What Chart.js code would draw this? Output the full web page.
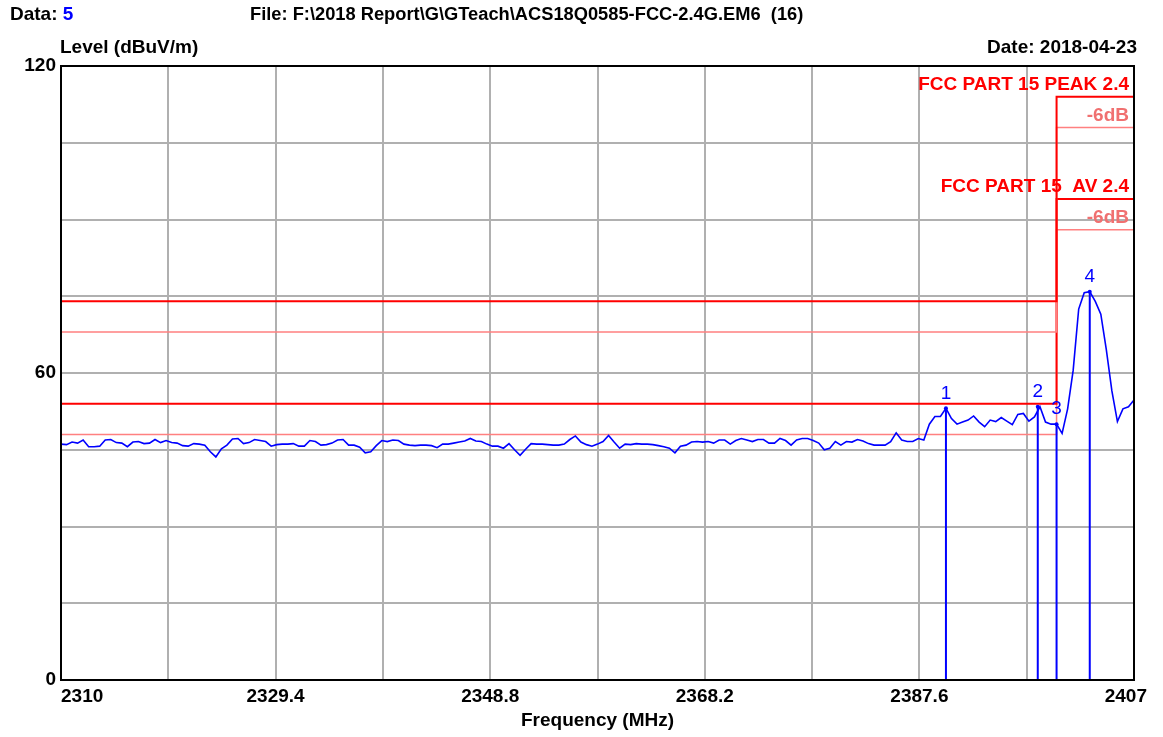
<!DOCTYPE html>
<html>
<head>
<meta charset="utf-8">
<title>EM6 scan</title>
<script src="https://cdn.jsdelivr.net/npm/chart.js@4.4.0/dist/chart.umd.min.js"></script>
<style>
  body { margin: 0; background: #fff; }
  #wrap { width: 1163px; height: 737px; }
</style>
</head>
<body>
<div id="wrap"><canvas id="myChart" width="1163" height="737"></canvas></div>
<script>
// trace, one value every 0.5 MHz from 2310 to 2407
const traceStart = 2310
const traceStep = 0.5
const traceLevels = [
  46.1,46.0,46.5,46.3,46.9,45.6,45.6,45.7,46.9,47.0,46.4,46.3,45.6,46.5,46.6,46.2,46.3,47.0,46.4,46.8, // 2310
  46.4,46.3,45.8,45.7,46.2,46.1,45.9,44.6,43.6,45.2,45.9,47.1,47.2,46.2,46.4,47.0,46.8,46.6,45.7,46.0, // 2320
  46.1,46.1,46.2,45.7,45.7,46.8,46.6,45.9,46.0,46.3,46.9,47.0,45.9,45.9,45.5,44.4,44.6,45.8,46.8,46.6, // 2330
  46.9,46.8,46.1,45.9,45.8,45.9,45.9,45.8,45.4,46.1,46.1,46.3,46.5,46.7,47.2,46.7,46.6,46.1,45.7,45.7, // 2340
  45.3,46.2,45.0,43.9,45.1,46.2,46.1,46.1,46.0,45.9,45.9,46.1,47.0,47.7,46.5,46.0,45.7,46.1,46.6,47.8, // 2350
  46.5,45.3,46.1,46.0,46.2,46.1,46.1,46.0,45.8,45.6,45.3,44.4,45.7,45.9,46.5,46.6,46.5,46.6,46.3,46.9, // 2360
  46.9,46.1,46.8,47.2,46.9,46.6,47.0,47.0,46.3,46.3,47.2,46.8,45.9,46.9,47.2,47.2,46.8,46.3,45.0,45.3, // 2370
  46.6,45.9,46.6,46.5,47.0,46.7,46.2,45.9,45.9,45.9,46.6,48.3,46.9,46.6,46.6,47.2,46.9,50.0,51.5,51.5, // 2380
  53.1,51.1,50.0,50.4,50.8,51.6,50.4,49.5,50.8,50.5,51.3,50.6,49.9,51.9,52.1,50.6,51.4,53.4,50.4,50.0, // 2390
  50.0,48.2,53.0,60.5,72.5,75.7,75.9,74.0,71.5,64.5,56.5,50.5,53.0,53.4,54.7                          // 2400
]

// limit lines, the step is at 2400 MHz
const limitFreqs = [2310, 2400, 2400, 2407]
const peakLimit = [74, 74, 114, 114]
const peakLimit6 = [68, 68, 108, 108]
const avLimit = [54, 54, 94, 94]
const avLimit6 = [48, 48, 88, 88]
const limitNames = ["FCC PART 15 PEAK 2.4", "-6dB", "FCC PART 15  AV 2.4", "-6dB"]

const markerNames = ["1", "2", "3", "4"]
const markerFreqs = [2390, 2398.3, 2400, 2403]
const markerLevels = [53.1, 53.4, 50.0, 75.9]

const xTickLabels = [2310, 2329.4, 2348.8, 2368.2, 2387.6, 2407]
const yTickLabels = [0, 60, 120]

const fontName = '"Liberation Sans", Arial, sans-serif'
const red = "#ff0000"
const pink = "#ff8080"
const blue = "#0000ff"

function limitPoints(levels){
  return limitFreqs.map((f, i) => ({x: f, y: levels[i]}))
}

const overlay = {
  id: "overlay",
  afterDraw(chart){
    const ctx = chart.ctx
    const a = chart.chartArea
    const xs = chart.scales.x
    const ys = chart.scales.y
    ctx.save()

    // frame round the plot
    ctx.strokeStyle = "#000"
    ctx.lineWidth = 2
    ctx.strokeRect(a.left, a.top, a.right - a.left, a.bottom - a.top)

    ctx.textBaseline = "middle"
    ctx.font = "bold 19px " + fontName

    // frequency labels, first one starts at the axis
    ctx.fillStyle = "#000"
    ctx.textAlign = "center"
    xTickLabels.forEach(v => {
      const txt = String(v)
      const w = ctx.measureText(txt).width
      let px = xs.getPixelForValue(v)
      px = Math.max(px, a.left + w / 2)
      px = Math.min(px, chart.width - 16 - w / 2)
      ctx.fillText(txt, px, a.bottom + 17)
    })

    // header
    ctx.textAlign = "left"
    ctx.fillText("Data: ", 10, 15)
    let w = ctx.measureText("Data: ").width
    ctx.fillStyle = blue
    ctx.fillText("5", 10 + w, 15)
    ctx.fillStyle = "#000"
    ctx.fillText("Level (dBuV/m)", 60, 48)
    ctx.textAlign = "right"
    ctx.fillText("Date: 2018-04-23", 1137, 48)
    ctx.textAlign = "left"
    ctx.font = "bold 18.3px " + fontName
    ctx.fillText("File: F:\\2018 Report\\G\\GTeach\\ACS18Q0585-FCC-2.4G.EM6  (16)", 250, 15)

    // limit names above the upper part of each line
    ctx.font = "bold 19px " + fontName
    ctx.textAlign = "right"
    const lastLevels = [peakLimit, peakLimit6, avLimit, avLimit6].map(l => l[l.length - 1])
    lastLevels.forEach((lv, i) => {
      ctx.fillStyle = limitNames[i] == "-6dB" ? "#f07070" : red
      ctx.fillText(limitNames[i], a.right - 5, ys.getPixelForValue(lv) - 12)
    })

    // marker numbers
    ctx.font = "19px " + fontName
    ctx.fillStyle = blue
    ctx.textAlign = "center"
    markerFreqs.forEach((f, i) => {
      ctx.fillText(markerNames[i], xs.getPixelForValue(f), ys.getPixelForValue(markerLevels[i]) - 15)
    })
    ctx.restore()
  }
}

function drawChart(){
  const trace = traceLevels.map((v, i) => ({x: traceStart + i * traceStep, y: v}))
  let markers = []
  markerFreqs.forEach((f, i) => {
    markers.push({x: f, y: markerLevels[i]})
    markers.push({x: f, y: 0})
    markers.push({x: f, y: null})
  })

  new Chart("myChart", {
    type: "scatter",
    data: {
      datasets: [
        {data: trace, showLine: true, borderColor: blue, borderWidth: 1.6, pointRadius: 0},
        {data: markers, showLine: true, borderColor: blue, borderWidth: 2,
         pointRadius: c => (c.raw && c.raw.y > 0 ? 2 : 0), pointBackgroundColor: blue, pointBorderWidth: 0},
        {data: limitPoints(peakLimit), showLine: true, borderColor: red, borderWidth: 2, pointRadius: 0},
        {data: limitPoints(peakLimit6), showLine: true, borderColor: pink, borderWidth: 1.5, pointRadius: 0},
        {data: limitPoints(avLimit), showLine: true, borderColor: red, borderWidth: 2, pointRadius: 0},
        {data: limitPoints(avLimit6), showLine: true, borderColor: pink, borderWidth: 1.5, pointRadius: 0}
      ]
    },
    options: {
      responsive: false,
      animation: false,
      layout: {padding: {left: 0, right: 29, top: 66, bottom: 0}},
      plugins: {legend: {display: false}, tooltip: {enabled: false}},
      scales: {
        x: {
          type: "linear",
          min: 2310,
          max: 2407,
          afterFit: s => { s.height = 57 },
          ticks: {stepSize: 9.7, display: false},
          grid: {color: "#b0b0b0", lineWidth: 2, drawTicks: false},
          border: {display: false},
          title: {display: true, text: "Frequency (MHz)", color: "#000",
                  font: {family: fontName, size: 19, weight: "bold"}, padding: {top: 0, bottom: 5}}
        },
        y: {
          min: 0,
          max: 120,
          afterFit: s => { s.width = 61 },
          ticks: {
            stepSize: 15,
            padding: 5,
            color: "#000",
            font: {family: fontName, size: 19, weight: "bold"},
            callback: v => (yTickLabels.includes(v) ? String(v) : "")
          },
          grid: {color: "#b0b0b0", lineWidth: 2, drawTicks: false},
          border: {display: false}
        }
      }
    },
    plugins: [overlay]
  })
}

drawChart()
</script>
</body>
</html>
